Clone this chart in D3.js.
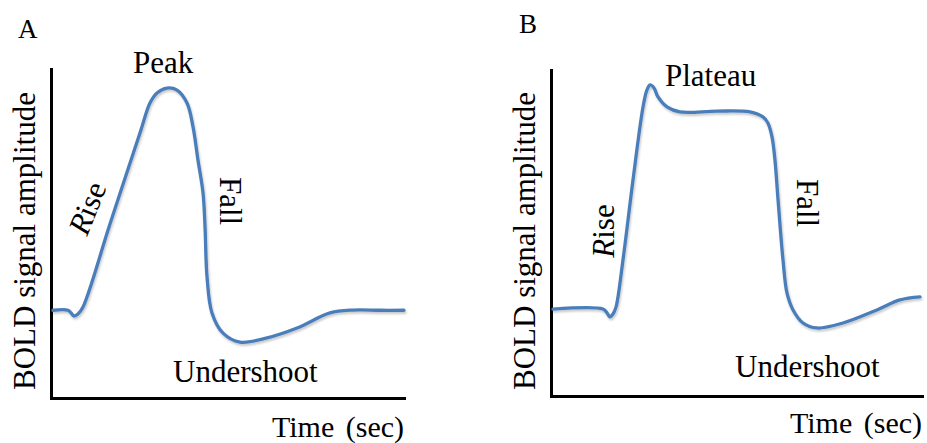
<!DOCTYPE html>
<html>
<head>
<meta charset="utf-8">
<script src="https://cdn.jsdelivr.net/npm/d3@7"></script>
<style>
  body { margin: 0; background: #fff; }
  text { font-family: "Liberation Serif", "Times New Roman", serif; fill: #000; }
</style>
</head>
<body>
<div id="graph_holder"></div>
<script>
// panel A - transient response (time in sec, amplitude relative to baseline)
var timeA = [0.17, 1.44, 1.70, 1.95, 2.29, 2.72, 5.01, 7.56, 8.41, 9.01, 9.86, 10.71, 11.56, 12.07, 12.49, 12.92, 13.09, 13.26, 13.68, 14.62, 16.06, 18.36, 20.91, 23.71, 25.67, 27.96, 30.0];
var ampA  = [0, 0, -0.012, -0.026, -0.017, 0.015, 0.393, 0.808, 0.945, 0.991, 1.013, 1.004, 0.945, 0.836, 0.685, 0.535, 0.380, 0.152, -0.012, -0.104, -0.145, -0.126, -0.081, -0.012, 0.001, 0, 0];

// panel B - sustained response with plateau
var timeB = [0.16, 4.20, 4.53, 4.77, 5.01, 5.26, 5.82, 6.63, 7.44, 7.76, 8.01, 8.33, 8.65, 9.38, 10.43, 13.42, 16.09, 17.14, 17.54, 17.87, 18.11, 18.36, 18.76, 19.08, 19.57, 20.38, 21.51, 23.61, 26.36, 28.22, 29.84];
var ampB  = [0, 0, -0.018, -0.036, -0.023, 0.010, 0.226, 0.594, 0.930, 1.008, 1.031, 1.017, 0.976, 0.930, 0.907, 0.911, 0.907, 0.884, 0.856, 0.792, 0.686, 0.502, 0.226, 0.074, -0.004, -0.064, -0.087, -0.064, -0.004, 0.042, 0.056];

var timeDomain = [0, 30];
var ampDomain = [-0.4, 1.1];

var panelLetters = ["A", "B"];
var yTitle = "BOLD signal amplitude";
var xTitle = "Time (sec)";

var width = 927, height = 443;
var blue = "#4a7ebb";

var svg = d3.select("#graph_holder").append("svg")
    .attr("width", width)
    .attr("height", height)
    .style("display", "block");

// soft shadow like the office line style
var filt = svg.append("defs").append("filter")
    .attr("id", "shadow")
    .attr("x", "-10%").attr("y", "-10%")
    .attr("width", "120%").attr("height", "120%");
filt.append("feDropShadow")
    .attr("dx", 1).attr("dy", 2)
    .attr("stdDeviation", 1.3)
    .attr("flood-color", "#000")
    .attr("flood-opacity", 0.22);

var panels = [
  {letter: panelLetters[0], time: timeA, amp: ampA,
   x0: 51, x1: 404, y0: 398, y1: 69,
   letterPos: [18, 38], ytPos: [35, 241], xtPos: [272, 437],
   labels: [
     {t: "Peak", x: 133, y: 73, rot: 0},
     {t: "Undershoot", x: 173, y: 382, rot: 0},
     {t: "Fall", x: 220, y: 201, rot: 90, anchor: "middle"},
     {t: "Rise", x: 97, y: 212, rot: -68, anchor: "middle", italicFirst: true}
   ]},
  {letter: panelLetters[1], time: timeB, amp: ampB,
   x0: 551, x1: 922, y0: 396, y1: 70,
   letterPos: [519, 33], ytPos: [535, 241], xtPos: [790, 433],
   labels: [
     {t: "Plateau", x: 665, y: 86, rot: 0},
     {t: "Undershoot", x: 735, y: 377, rot: 0},
     {t: "Fall", x: 797, y: 203, rot: 90, anchor: "middle"},
     {t: "Rise", x: 614, y: 231, rot: -90, anchor: "middle", italicFirst: true}
   ]}
];

panels.forEach(function(p){
  var x = d3.scaleLinear().domain(timeDomain).range([p.x0, p.x1]);
  var y = d3.scaleLinear().domain(ampDomain).range([p.y0, p.y1]);

  var g = svg.append("g");

  // axes without ticks, just the spines
  g.append("g")
      .attr("transform", "translate(0," + p.y0 + ")")
      .call(d3.axisBottom(x).tickValues([]).tickSizeOuter(0));
  g.append("g")
      .attr("transform", "translate(" + p.x0 + ",0)")
      .call(d3.axisLeft(y).tickValues([]).tickSizeOuter(0));
  g.selectAll(".domain")
      .attr("stroke", "#000")
      .attr("stroke-width", 3)
      .attr("stroke-linecap", "square");

  var pts = p.time.map(function(t, i){ return [t, p.amp[i]]; });
  var line = d3.line()
      .x(function(d){ return x(d[0]); })
      .y(function(d){ return y(d[1]); })
      .curve(d3.curveCatmullRom.alpha(0.5));

  g.append("path")
      .datum(pts)
      .attr("d", line)
      .attr("fill", "none")
      .attr("stroke", blue)
      .attr("stroke-width", 3.3)
      .attr("stroke-linejoin", "round")
      .attr("stroke-linecap", "round")
      .attr("filter", "url(#shadow)");

  g.append("text")
      .attr("x", p.letterPos[0])
      .attr("y", p.letterPos[1])
      .attr("font-family", "Liberation Serif")
      .attr("font-size", "27px")
      .text(p.letter);

  g.append("text")
      .attr("transform", "translate(" + p.ytPos[0] + "," + p.ytPos[1] + ") rotate(-90)")
      .attr("text-anchor", "middle")
      .attr("font-family", "Liberation Serif")
      .attr("font-size", "31px")
      .text(yTitle);

  g.append("text")
      .attr("x", p.xtPos[0])
      .attr("y", p.xtPos[1])
      .attr("font-family", "Liberation Serif")
      .attr("font-size", "30px")
      .attr("word-spacing", "4px")
      .text(xTitle);

  p.labels.forEach(function(l){
    var txt = g.append("text")
        .attr("font-family", "Liberation Serif")
        .attr("font-size", "31px")
        .attr("text-anchor", l.anchor || "start")
        .attr("transform", "translate(" + l.x + "," + l.y + ") rotate(" + l.rot + ")");
    if(l.italicFirst){
      txt.append("tspan").attr("font-style", "italic").text(l.t.charAt(0));
      txt.append("tspan").text(l.t.slice(1));
    } else {
      txt.text(l.t);
    }
  });
});
</script>
</body>
</html>
